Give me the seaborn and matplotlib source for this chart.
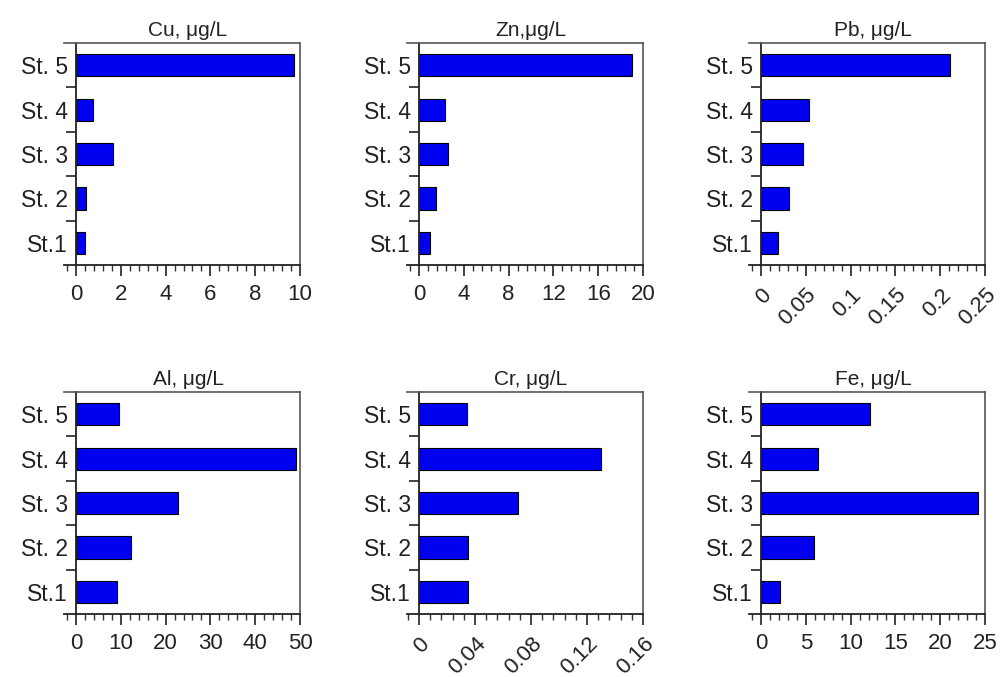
import numpy as np
import pandas as pd
import matplotlib
matplotlib.use('Agg')
import matplotlib.pyplot as plt
import seaborn as sns
from matplotlib.ticker import AutoMinorLocator, FixedLocator

sns.set_style('white')
plt.rcParams['font.family'] = ['Liberation Sans', 'DejaVu Sans']

stations = ['St.1', 'St. 2', 'St. 3', 'St. 4', 'St. 5']

cu = [0.4, 0.45, 1.65, 0.75, 9.75]
zn = [0.95, 1.55, 2.6, 2.3, 19.0]
pb = [0.019, 0.031, 0.047, 0.054, 0.211]
al = [9.2, 12.3, 22.8, 49.1, 9.6]
cr = [0.035, 0.035, 0.071, 0.13, 0.034]
fe = [2.1, 5.9, 24.2, 6.4, 12.2]

titles = ['Cu, μg/L', 'Zn,μg/L', 'Pb, μg/L', 'Al, μg/L', 'Cr, μg/L', 'Fe, μg/L']
series = [cu, zn, pb, al, cr, fe]
xmax = [10, 20, 0.25, 50, 0.16, 25]
xstep = [2, 4, 0.05, 10, 0.04, 5]
xlabels = [None, None, ['0', '0.05', '0.1', '0.15', '0.2', '0.25'],
           None, ['0', '0.04', '0.08', '0.12', '0.16'], None]

fig = plt.figure(figsize=(10.01, 6.77), dpi=100)

W, H = 1001, 677
ext = 12  # px the x axis runs past the left spine
lefts = [76, 419, 761]
tops = [43, 392]
aw, ah = 224, 222

order = stations[::-1]
for i, (vals, title) in enumerate(zip(series, titles)):
    r, c = divmod(i, 3)
    x0 = lefts[c] - ext
    ax = fig.add_axes([x0 / W, 1 - (tops[r] + ah) / H, (aw + ext) / W, ah / H])
    df = pd.DataFrame({'station': stations, 'value': vals})
    sns.barplot(data=df, x='value', y='station', order=order, orient='h',
                color='#0000f0', edgecolor='black', linewidth=0.8,
                width=0.5, saturation=1, ax=ax)
    pad = xmax[i] * ext / aw
    ax.set_xlim(-pad, xmax[i])
    ax.set_ylim(4.5, -0.5)
    ax.spines['left'].set_position(('data', 0))
    for s in ['left', 'bottom']:
        ax.spines[s].set_color('#222222')
        ax.spines[s].set_linewidth(1.3)
    for s in ['top', 'right']:
        ax.spines[s].set_color('#555555')
        ax.spines[s].set_linewidth(1.2)

    ax.set_xticks(np.arange(0, xmax[i] + xstep[i] / 2, xstep[i]))
    ax.xaxis.set_minor_locator(AutoMinorLocator(5))
    if xlabels[i] is not None:
        ax.set_xticklabels(xlabels[i], rotation=45, ha='right',
                           rotation_mode='anchor')
    ax.tick_params(axis='x', which='major', direction='out', length=8,
                   width=1.2, color='#222222', labelsize=16, pad=6,
                   bottom=True, labelcolor='#222222')
    ax.tick_params(axis='x', which='minor', direction='out', length=4,
                   width=1.0, color='#333333', bottom=True)

    ax.yaxis.set_minor_locator(FixedLocator([0.5, 1.5, 2.5, 3.5]))
    ax.tick_params(axis='y', which='major', length=0, labelsize=16.5, pad=6,
                   labelcolor='#222222')
    ax.tick_params(axis='y', which='minor', direction='out', length=7,
                   width=1.2, color='#222222', left=True)

    ax.set_xlabel('')
    ax.set_ylabel('')
    ax.set_title(title, fontsize=15, pad=5, color='#222222')
    ax.title.set_position((0.5 + ext / (aw + ext) / 2, 1))

fig.savefig('out.png', dpi=100)
